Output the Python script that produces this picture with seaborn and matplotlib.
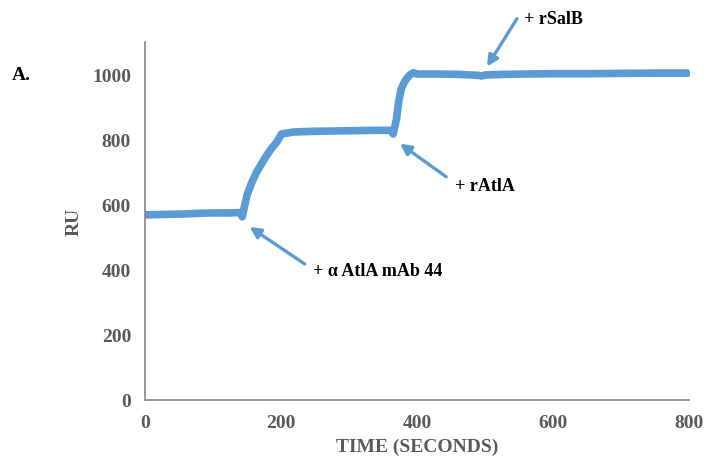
import matplotlib
matplotlib.use("Agg")
import matplotlib.pyplot as plt
import seaborn as sns
import pandas as pd

# ---- data ----
time_s = [0, 20, 40, 60, 80, 100, 120, 140, 143, 150, 157, 164, 172, 179, 186, 194, 201,
          220, 250, 280, 310, 340, 362, 365, 368, 370, 373, 377, 381, 385, 390, 395, 400,
          430, 460, 490, 495, 500, 530, 560, 600, 650, 700, 750, 800]
ru = [569, 570, 571, 572, 574, 575, 575, 576, 563, 629, 668, 700, 728, 752, 773, 793, 818,
      824, 826, 827, 828, 829, 829, 818, 845, 865, 916, 957, 975, 988, 1000, 1006, 1002,
      1002, 1001, 998, 996, 999, 1001, 1002, 1003, 1003, 1004, 1005, 1005]
x_ticks = [0, 200, 400, 600, 800]
y_ticks = [0, 200, 400, 600, 800, 1000]
annot_labels = ["+ \u03b1 AtlA mAb 44", "+ rAtlA", "+ rSalB"]
arrow_heads = [(154, 532), (375, 788), (503, 1025)]
arrow_tails = [(235, 418), (443, 686), (547, 1172)]
label_pos = [(247, 397), (456, 658), (557, 1172)]

sns.set_style("white")
plt.rcParams['font.family'] = ['Liberation Serif', 'DejaVu Serif']

df = pd.DataFrame({"TIME (SECONDS)": time_s, "RU": ru})

fig = plt.figure(figsize=(7.07, 4.64), dpi=100)
ax = fig.add_axes([0.205, 0.1358, 0.7695, 0.7712])

blue = "#5B9BD5"
gray = "#595959"
sns.lineplot(data=df, x="TIME (SECONDS)", y="RU", ax=ax, color=blue, linewidth=5.5,
             marker="D", markersize=3, markeredgewidth=0, solid_capstyle="round")

ax.set_xlim(0, 800)
ax.set_ylim(0, 1100)
ax.set_xticks(x_ticks)
ax.set_yticks(y_ticks)
ax.set_xticklabels([str(v) for v in x_ticks], fontsize=14, fontweight="bold", color=gray)
ax.set_yticklabels([str(v) for v in y_ticks], fontsize=14, fontweight="bold", color=gray)
ax.set_xlabel("TIME (SECONDS)", fontsize=14, fontweight="bold", color=gray, labelpad=5)
ax.set_ylabel("RU", fontsize=14, fontweight="bold", color=gray, labelpad=7)

for s in ["top", "right"]:
    ax.spines[s].set_visible(False)
for s in ["left", "bottom"]:
    ax.spines[s].set_color("#868686")
    ax.spines[s].set_linewidth(1.2)
ax.tick_params(axis="both", direction="inout", length=8, width=1.0, color="#595959", pad=6)
ax.grid(False)

for lab, head, tail, pos in zip(annot_labels, arrow_heads, arrow_tails, label_pos):
    ax.annotate("", xy=head, xytext=tail, textcoords="data", annotation_clip=False,
                arrowprops=dict(arrowstyle="-|>", color=blue, lw=2.4,
                                mutation_scale=16, shrinkA=0, shrinkB=0))
    ax.text(pos[0], pos[1], lab, fontsize=13, fontweight="bold", color="black",
            ha="left", va="center", clip_on=False)

fig.text(12 / 707, 1 - 76 / 464, "A.", fontsize=14, fontweight="bold", color="black",
         ha="left", va="center")

fig.savefig("out.png", dpi=100)
